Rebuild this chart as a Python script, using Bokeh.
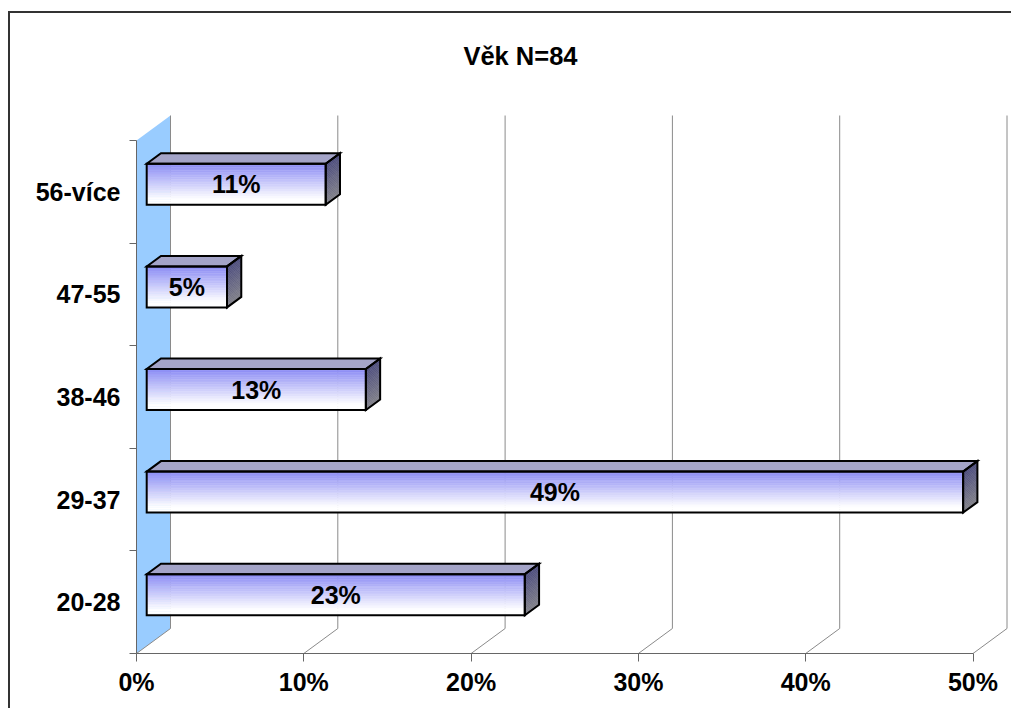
import numpy as np
from bokeh.plotting import figure
from bokeh.models import FixedTicker, PrintfTickFormatter, Range1d
from bokeh.core.properties import value
from bokeh.embed import file_html
from bokeh.resources import INLINE

# ---------------- data ----------------
categories = ["20-28", "29-37", "38-46", "47-55", "56-více"]
percent = [22.6, 48.8, 13.1, 4.8, 10.7]
bar_labels = ["23%", "49%", "13%", "5%", "11%"]
x_ticks = [0, 10, 20, 30, 40, 50]
title_text = "Věk N=84"

# ---------------- layout / style ----------------
W, H = 1003, 697
ML, MB, MT, MR = 126, 57, 7, 0
PX_X = 16.73          # pixels per percent
PX_Y = 102.6          # pixels per category
x_end = (W - ML - MR) / PX_X
y_end = (H - MT - MB) / PX_Y
DX = 34 / PX_X        # 3D depth vector in data units
DY = 25 / PX_Y
F1, F2 = 0.3, 0.72    # bar depth span
BAR_H = 0.4
FONT = "Liberation Sans"
FS = "25px"
FS_TITLE = "25.5px"
AXIS_COL = "#666666"
GRID_COL = "#8a8a8a"
WALL_COL = "#99CCFF"
N_STRIP = 24

p = figure(width=W, height=H, output_backend="svg", toolbar_location=None,
           x_range=Range1d(0, x_end), y_range=Range1d(0, y_end),
           min_border_left=ML, min_border_bottom=MB, min_border_top=MT,
           min_border_right=MR)
p.styles = {"border-left": "2px solid #333333", "border-top": "2px solid #333333",
            "margin-top": "11px", "margin-left": "8px"}
p.grid.visible = False
p.outline_line_color = None
p.background_fill_color = "white"
p.border_fill_color = "white"

n_cat = len(categories)
x_max = x_ticks[-1]

# back wall
p.patch([0, DX, DX, 0], [0, DY, n_cat + DY, n_cat], fill_color=WALL_COL,
        line_color=None)

# floor diagonals and back gridlines
p.segment(x0=x_ticks, y0=[0] * len(x_ticks),
          x1=[t + DX for t in x_ticks], y1=[DY] * len(x_ticks),
          line_color=GRID_COL, line_width=1)
p.segment(x0=[t + DX for t in x_ticks], y0=[DY] * len(x_ticks),
          x1=[t + DX for t in x_ticks], y1=[n_cat + DY] * len(x_ticks),
          line_color=GRID_COL, line_width=1)


def lerp(c1, c2, t):
    return "#%02x%02x%02x" % tuple(int(round(a + (b - a) * t)) for a, b in zip(c1, c2))


FRONT_TOP = (0x8a, 0x8a, 0xf4)
FRONT_BOT = (0xff, 0xff, 0xff)
SIDE_TOP = (0x4a, 0x4a, 0x7c)
SIDE_BOT = (0x80, 0x80, 0x88)

x0f = F1 * DX
y0f = F1 * DY
ddx = (F2 - F1) * DX
ddy = (F2 - F1) * DY

strip_l, strip_r, strip_b, strip_t, strip_c = [], [], [], [], []
side_xs, side_ys, side_c = [], [], []
top_xs, top_ys = [], []
out_xs, out_ys = [], []
lab_x, lab_y = [], []

for i, v in enumerate(percent):
    c = i + 0.5 + y0f
    yb = c - BAR_H / 2
    yt = c + BAR_H / 2
    xl = x0f
    xr = x0f + v
    for k in range(N_STRIP):
        a = k / N_STRIP
        b = (k + 1) / N_STRIP
        strip_l.append(xl)
        strip_r.append(xr)
        strip_b.append(yt - b * BAR_H)
        strip_t.append(yt - a * BAR_H)
        strip_c.append(lerp(FRONT_TOP, FRONT_BOT, min(1.0, ((a + b) / 2) * 1.15)))
        sb = yt - b * BAR_H
        st = yt - a * BAR_H
        side_xs.append([xr, xr, xr + ddx, xr + ddx])
        side_ys.append([sb, st, st + ddy, sb + ddy])
        side_c.append(lerp(SIDE_TOP, SIDE_BOT, (a + b) / 2))
    top_xs.append([xl, xr, xr + ddx, xl + ddx])
    top_ys.append([yt, yt, yt + ddy, yt + ddy])
    # outlines
    out_xs.append([xl, xr, xr, xl])
    out_ys.append([yb, yb, yt, yt])
    out_xs.append([xr, xr, xr + ddx, xr + ddx])
    out_ys.append([yb, yt, yt + ddy, yb + ddy])
    out_xs.append([xl, xr, xr + ddx, xl + ddx])
    out_ys.append([yt, yt, yt + ddy, yt + ddy])
    lab_x.append(xl + v / 2)
    lab_y.append(c)

p.quad(left=strip_l, right=strip_r, bottom=strip_b, top=strip_t,
       fill_color=strip_c, line_color=strip_c, line_width=0.5)
p.patches(side_xs, side_ys, fill_color=side_c, line_color=side_c, line_width=0.5)
p.patches(top_xs, top_ys, fill_color="#a4a4c8", line_color=None)
p.patches(out_xs, out_ys, fill_color=None, line_color="black", line_width=2,
          line_join="miter")

p.text(x=lab_x, y=lab_y, text=bar_labels, text_align="center",
       text_baseline="middle", text_font=value(FONT), text_font_style="bold",
       text_font_size=FS, text_color="black")

# title
p.text(x=[22.95], y=[5.82], text=[title_text], text_align="center",
       text_baseline="alphabetic", text_font=value(FONT), text_font_style="bold",
       text_font_size=FS_TITLE, text_color="black")

# axes
xa = p.xaxis[0]
xa.ticker = FixedTicker(ticks=x_ticks, minor_ticks=[])
xa.formatter = PrintfTickFormatter(format="%d%%")
xa.bounds = (0, x_max)
xa.axis_line_color = AXIS_COL
xa.major_tick_line_color = AXIS_COL
xa.major_tick_out = 8
xa.major_tick_in = 0
xa.minor_tick_out = 0
xa.minor_tick_in = 0
xa.major_label_standoff = 6
xa.major_label_text_font = FONT
xa.major_label_text_font_style = "bold"
xa.major_label_text_font_size = FS
xa.major_label_text_color = "black"

ya = p.yaxis[0]
centers = [i + 0.5 for i in range(n_cat)]
ya.ticker = FixedTicker(ticks=centers, minor_ticks=list(range(n_cat + 1)))
ya.major_label_overrides = {cc: lab for cc, lab in zip(centers, categories)}
ya.bounds = (0, n_cat)
ya.axis_line_color = AXIS_COL
ya.major_tick_line_color = None
ya.major_tick_out = 0
ya.major_tick_in = 0
ya.minor_tick_line_color = AXIS_COL
ya.minor_tick_out = 7
ya.minor_tick_in = 0
ya.major_label_standoff = 9
ya.major_label_text_font = FONT
ya.major_label_text_font_style = "bold"
ya.major_label_text_font_size = FS
ya.major_label_text_color = "black"

open("out.html", "w").write(file_html(p, INLINE))
